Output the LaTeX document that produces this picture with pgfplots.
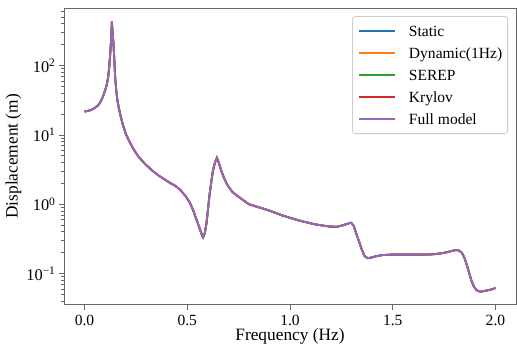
\documentclass[border=0pt]{standalone}
\usepackage{pgfplots}
\pgfplotsset{compat=1.18}
\usepackage{pgfplotstable}
\usepackage{fontspec}
\setmainfont{Liberation Serif}
\definecolor{cStatic}{HTML}{1F77B4}
\definecolor{cDyn}{HTML}{FF7F0E}
\definecolor{cSerep}{HTML}{2CA02C}
\definecolor{cKry}{HTML}{D62728}
\definecolor{cFull}{HTML}{9467BD}
\definecolor{spine}{HTML}{666666}

\pgfplotstableread{
f y
0.000 21.7
0.016 22.2
0.032 22.9
0.048 24.3
0.064 26.3
0.078 29.8
0.088 34.9
0.100 43.5
0.109 54.5
0.115 68
0.120 94.6
0.124 135
0.128 204
0.131 300
0.133 431
0.136 320
0.139 240
0.141 204
0.145 120
0.149 67.6
0.154 45
0.160 31.3
0.170 22
0.185 14.5
0.200 10.5
0.216 8.28
0.240 6.1
0.264 4.79
0.295 3.8
0.329 3.07
0.360 2.6
0.393 2.25
0.420 2.0
0.441 1.85
0.465 1.62
0.490 1.33
0.513 1.05
0.530 0.80
0.545 0.60
0.560 0.45
0.570 0.37
0.577 0.334
0.585 0.38
0.593 0.52
0.600 0.80
0.609 1.41
0.617 2.1
0.625 3.07
0.635 4.0
0.644 4.68
0.652 4.1
0.665 3.07
0.680 2.35
0.697 1.86
0.720 1.5
0.753 1.26
0.800 1.0
0.850 0.90
0.900 0.81
0.962 0.69
1.042 0.585
1.122 0.513
1.194 0.476
1.230 0.475
1.260 0.50
1.285 0.53
1.298 0.54
1.310 0.49
1.325 0.36
1.338 0.28
1.350 0.22
1.362 0.18
1.378 0.167
1.395 0.17
1.418 0.178
1.450 0.185
1.490 0.188
1.550 0.188
1.600 0.188
1.650 0.188
1.699 0.19
1.735 0.196
1.763 0.203
1.790 0.213
1.808 0.219
1.822 0.215
1.835 0.203
1.847 0.175
1.859 0.138
1.871 0.105
1.883 0.0794
1.895 0.065
1.907 0.0582
1.920 0.0555
1.931 0.055
1.955 0.0569
1.980 0.059
2.000 0.062
}\datatable

\begin{document}
\begin{tikzpicture}
\begin{axis}[
  at={(0,0)}, anchor=south west,
  scale only axis, width=226bp, height=148.4bp,
  ymode=log,
  xmin=-0.1, xmax=2.1, ymin=0.0355, ymax=676,
  xtick={0,0.5,1,1.5,2},
  xticklabels={0.0,0.5,1.0,1.5,2.0},
  ytick={0.1,1,10,100},
  yticklabels={10\textsuperscript{−1},10\textsuperscript{0},10\textsuperscript{1},10\textsuperscript{2}},
  minor ytick={0.04,0.05,0.06,0.07,0.08,0.09,0.2,0.3,0.4,0.5,0.6,0.7,0.8,0.9,2,3,4,5,6,7,8,9,20,30,40,50,60,70,80,90,200,300,400,500,600},
  tick align=outside,
  xtick pos=bottom, ytick pos=left,
  major tick length=2.5bp, minor tick length=1.4bp,
  every tick/.style={spine, line width=0.4bp},
  axis line style={spine, line width=0.5bp},
  tick label style={font=\fontsize{7.8}{9}\selectfont},
  xticklabel style={inner ysep=0.5bp, yshift=-2.1bp},
  yticklabel style={font=\fontsize{8.2}{9}\selectfont, xshift=2bp},
  label style={font=\fontsize{8.7}{10}\selectfont},
  xlabel={Frequency (Hz)},
  ylabel={Displacement (m)},
  xlabel style={at={([yshift=-18bp]axis description cs:0.5,0)}, anchor=base, inner sep=0.3bp},
  ylabel style={at={([xshift=-25.3bp]axis description cs:0,0.5)}, anchor=center},
  legend cell align=left,
  legend style={at={(1,1)}, anchor=north east, xshift=-4bp, yshift=-4bp,
    draw=black!20, rounded corners=1.5bp, fill=white, fill opacity=0.8,
    text opacity=1, draw opacity=1,
    font=\fontsize{7.8}{9}\selectfont, inner xsep=2.7bp, inner ysep=1.8bp,
    row sep=0pt,
    /tikz/every odd column/.append style={column sep=6.35bp},
    nodes={inner xsep=0bp, inner ysep=0bp, text height=8bp, text depth=3bp}},
  legend image code/.code={\draw[#1, line width=0.9bp] (0bp,0bp) -- (18.3bp,0bp);},
  every axis plot/.append style={line width=0.9bp},
]
\addplot[cStatic, no marks] table[x=f,y=y] {\datatable};
\addlegendentry{Static}
\addplot[cDyn, no marks] table[x=f,y=y] {\datatable};
\addlegendentry{Dynamic(1Hz)}
\addplot[cSerep, no marks] table[x=f,y=y] {\datatable};
\addlegendentry{SEREP}
\addplot[cKry, no marks] table[x=f,y=y] {\datatable};
\addlegendentry{Krylov}
\addplot[cFull, no marks] table[x=f,y=y] {\datatable};
\addlegendentry{Full model}
\end{axis}
\pgfresetboundingbox
\path (-32bp,-22.2bp) rectangle (226.5bp,152.4bp);
\end{tikzpicture}
\end{document}
